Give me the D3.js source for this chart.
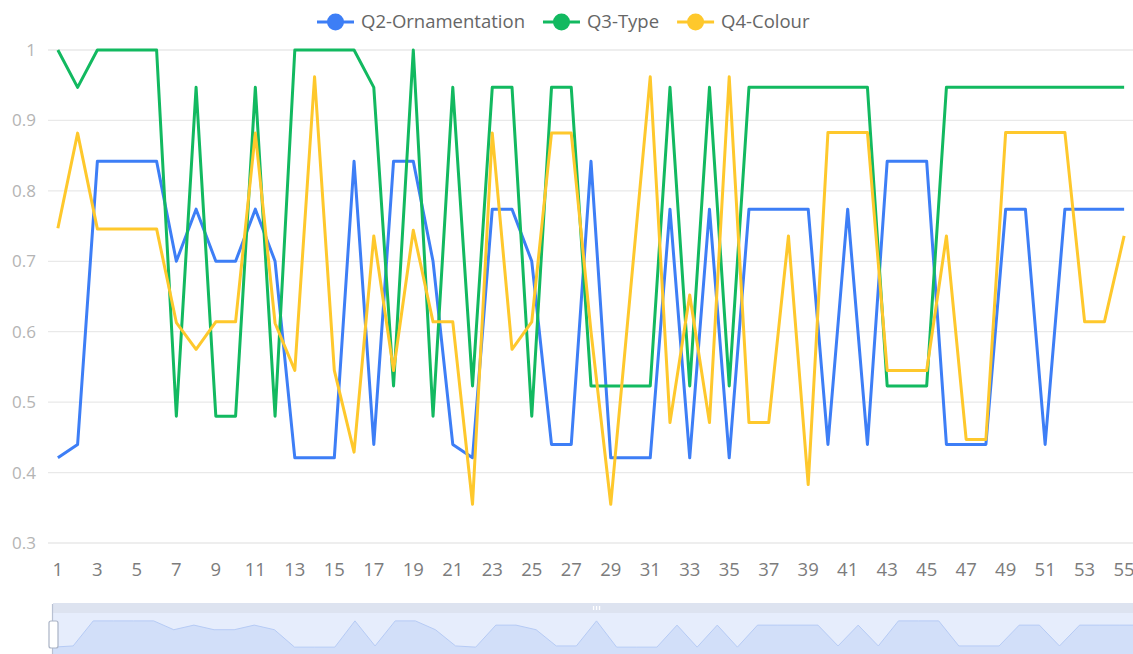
<!DOCTYPE html>
<html>
<head>
<meta charset="utf-8">
<script src="https://cdn.jsdelivr.net/npm/d3@7"></script>
<style>
  body { margin: 0; background: #fff; }
  svg { display: block; font-family: "Open Sans", "Noto Sans", sans-serif; }
</style>
</head>
<body>
<div id="chart"></div>
<script>
// categories 1..55
const categories = ["1","2","3","4","5","6","7","8","9","10","11","12","13","14","15","16","17","18","19","20",
  "21","22","23","24","25","26","27","28","29","30","31","32","33","34","35","36","37","38","39","40",
  "41","42","43","44","45","46","47","48","49","50","51","52","53","54","55"];

const seriesNames = ["Q2-Ornamentation", "Q3-Type", "Q4-Colour"];

const q2Values = [0.421,0.44,0.842,0.842,0.842,0.842,0.7,0.774,0.7,0.7,0.774,0.7,0.421,0.421,0.421,0.842,0.44,0.842,0.842,0.7,
  0.44,0.421,0.774,0.774,0.7,0.44,0.44,0.842,0.421,0.421,0.421,0.774,0.421,0.774,0.421,0.774,0.774,0.774,0.774,0.44,
  0.774,0.44,0.842,0.842,0.842,0.44,0.44,0.44,0.774,0.774,0.44,0.774,0.774,0.774,0.774];

const q3Values = [1,0.947,1,1,1,1,0.48,0.947,0.48,0.48,0.947,0.48,1,1,1,1,0.947,0.523,1,0.48,
  0.947,0.523,0.947,0.947,0.48,0.947,0.947,0.523,0.523,0.523,0.523,0.947,0.523,0.947,0.523,0.947,0.947,0.947,0.947,0.947,
  0.947,0.947,0.523,0.523,0.523,0.947,0.947,0.947,0.947,0.947,0.947,0.947,0.947,0.947,0.947];

const q4Values = [0.747,0.882,0.746,0.746,0.746,0.746,0.613,0.575,0.614,0.614,0.882,0.612,0.545,0.962,0.545,0.429,0.736,0.545,0.744,0.614,
  0.614,0.355,0.882,0.575,0.614,0.882,0.882,0.6,0.355,0.658,0.962,0.471,0.652,0.471,0.962,0.471,0.471,0.736,0.383,0.883,
  0.883,0.883,0.545,0.545,0.545,0.736,0.447,0.447,0.883,0.883,0.883,0.883,0.614,0.614,0.736];

const yTicks = [0.3, 0.4, 0.5, 0.6, 0.7, 0.8, 0.9, 1];

const colors = ["#3d7ef6", "#12b960", "#fec82c"];

const width = 1133, height = 654;
const margin = {top: 50, right: -1, bottom: 111, left: 48};

const svg = d3.select("#chart").append("svg")
  .attr("width", width)
  .attr("height", height);

// scales
const x = d3.scalePoint()
  .domain(categories)
  .range([margin.left, width - margin.right])
  .padding(0.5);

const y = d3.scaleLinear()
  .domain([0.3, 1])
  .range([height - margin.bottom, margin.top]);

// grid lines
svg.append("g")
  .selectAll("line")
  .data(yTicks)
  .enter().append("line")
  .attr("x1", margin.left)
  .attr("x2", width + 10)
  .attr("y1", d => y(d))
  .attr("y2", d => y(d))
  .attr("stroke", "#e9e9e9")
  .attr("stroke-width", 1.3);

// y labels
svg.append("g")
  .selectAll("text")
  .data(yTicks)
  .enter().append("text")
  .attr("x", 36)
  .attr("y", d => y(d))
  .attr("dy", "0.35em")
  .attr("text-anchor", "end")
  .attr("fill", "#b4b4b4")
  .style("font-size", "17px")
  .text(d => d);

// x labels (every other category)
svg.append("g")
  .selectAll("text")
  .data(categories.filter((d, i) => i % 2 === 0))
  .enter().append("text")
  .attr("x", d => x(d))
  .attr("y", 576)
  .attr("text-anchor", "middle")
  .attr("fill", "#7c7c7c")
  .style("font-size", "18.5px")
  .text(d => d);

// lines
const allSeries = [q2Values, q3Values, q4Values];
const line = d3.line()
  .x((d, i) => x(categories[i]))
  .y(d => y(d));

svg.append("g")
  .selectAll("path")
  .data(allSeries)
  .enter().append("path")
  .attr("d", line)
  .attr("fill", "none")
  .attr("stroke", (d, i) => colors[i])
  .attr("stroke-width", 3)
  .attr("stroke-linejoin", "round");

// legend
const legend = svg.append("g");
let lx = 317;
seriesNames.forEach((name, i) => {
  const g = legend.append("g").attr("transform", `translate(${lx},22)`);
  g.append("line")
    .attr("x1", 0).attr("x2", 37)
    .attr("stroke", colors[i]).attr("stroke-width", 3);
  g.append("circle")
    .attr("cx", 18.5).attr("r", 8.5)
    .attr("fill", colors[i]);
  const t = g.append("text")
    .attr("x", 44)
    .attr("dy", "0.35em")
    .attr("fill", "#666")
    .style("font-size", "18.5px")
    .text(name);
  lx += 44 + t.node().getComputedTextLength() + 18;
});

// data zoom slider
const sl = {x0: 53, x1: 1140, top: 603, bar: 10, bottom: 655};
const sx = d3.scalePoint().domain(categories).range([sl.x0, sl.x1]);
const ext = d3.extent(q2Values);
const off = (ext[1] - ext[0]) * 0.3;
const sy = d3.scaleLinear()
  .domain([ext[0] - off, ext[1] + off])
  .range([sl.bottom, sl.top + sl.bar]);

const slider = svg.append("g");
slider.append("rect")
  .attr("x", sl.x0).attr("y", sl.top)
  .attr("width", sl.x1 - sl.x0).attr("height", sl.bar)
  .attr("fill", "#dde3f0");
slider.append("rect")
  .attr("x", sl.x0).attr("y", sl.top + sl.bar)
  .attr("width", sl.x1 - sl.x0).attr("height", sl.bottom - sl.top - sl.bar)
  .attr("fill", "#e6edfc");

const area = d3.area()
  .x((d, i) => sx(categories[i]))
  .y0(sl.bottom)
  .y1(d => sy(d));
slider.append("path")
  .attr("d", area(q2Values))
  .attr("fill", "#d2dff9");
slider.append("path")
  .attr("d", d3.line().x((d, i) => sx(categories[i])).y(d => sy(d))(q2Values))
  .attr("fill", "none")
  .attr("stroke", "#b6cbf5")
  .attr("stroke-width", 1);

// move handle grip
[-3, 0, 3].forEach(dx => {
  slider.append("rect")
    .attr("x", (sl.x0 + sl.x1) / 2 + dx - 0.6).attr("y", sl.top + 3)
    .attr("width", 1.3).attr("height", 4)
    .attr("fill", "#fff");
});

// left edge + handle
slider.append("line")
  .attr("x1", sl.x0 - 0.5).attr("x2", sl.x0 - 0.5)
  .attr("y1", sl.top + 1).attr("y2", sl.bottom)
  .attr("stroke", "#b8c1d3").attr("stroke-width", 1.2);
slider.append("rect")
  .attr("x", 49).attr("y", 621)
  .attr("width", 9).attr("height", 27)
  .attr("rx", 2)
  .attr("fill", "#fff")
  .attr("stroke", "#aab3c5")
  .attr("stroke-width", 1.2);
</script>
</body>
</html>
